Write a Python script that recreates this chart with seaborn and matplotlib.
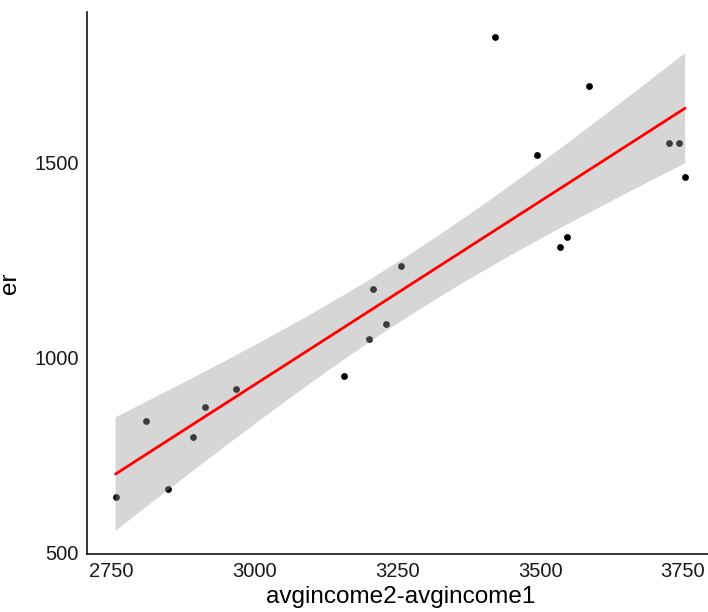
import numpy as np
import pandas as pd
import matplotlib
matplotlib.use("Agg")
import matplotlib.pyplot as plt
import seaborn as sns

# ---- data ----
income_diff = [2757, 2811, 2849, 2893, 2913, 2968, 3156, 3200, 3207, 3230,
               3256, 3421, 3494, 3535, 3548, 3586, 3726, 3743, 3754]
er = [642, 838, 664, 797, 873, 921, 954, 1048, 1177, 1087,
      1235, 1822, 1520, 1285, 1310, 1697, 1550, 1550, 1464]
x_ticks = [2750, 3000, 3250, 3500, 3750]
y_ticks = [500, 1000, 1500]
x_label = "avgincome2-avgincome1"
y_label = "er"

df = pd.DataFrame({"x": income_diff, "y": er})

sns.set_theme(style="white")
plt.rcParams["font.family"] = ["Liberation Sans", "DejaVu Sans"]

fig = plt.figure(figsize=(7.08, 6.12), dpi=100)
ax = fig.add_axes([87 / 708, 1 - 554 / 612, (713.7 - 87) / 708, (554 - 12) / 612])

# points first (the ribbon is drawn over them, as in the reference)
sns.scatterplot(data=df, x="x", y="y", color="black", s=24, linewidth=0,
                ax=ax, zorder=1)

# analytic 95% confidence band of the linear fit (t-based, like geom_smooth)
xv = df["x"].to_numpy(float)
yv = df["y"].to_numpy(float)
n = len(xv)
slope, intercept = np.polyfit(xv, yv, 1)
resid = yv - (intercept + slope * xv)
s = np.sqrt(np.sum(resid ** 2) / (n - 2))
sxx = np.sum((xv - xv.mean()) ** 2)
grid = np.linspace(xv.min(), xv.max(), 100)
fit = intercept + slope * grid
se = s * np.sqrt(1.0 / n + (grid - xv.mean()) ** 2 / sxx)
t_crit = 2.1098  # t(0.975, df=17)
ax.fill_between(grid, fit - t_crit * se, fit + t_crit * se,
                facecolor="#999999", alpha=0.4, edgecolor="none", zorder=2)

# fitted line
sns.regplot(data=df, x="x", y="y", scatter=False, ci=None,
            line_kws={"color": "red", "linewidth": 2.0, "zorder": 3}, ax=ax)

ax.set_xlim(2707, 3804)
ax.set_ylim(497, 1887)
ax.set_xticks(x_ticks)
ax.set_yticks(y_ticks)
ax.tick_params(axis="both", length=0, labelsize=14.5, colors="#1a1a1a", pad=6)
ax.set_xlabel(x_label, fontsize=17.5, color="black", labelpad=3)
ax.set_ylabel(y_label, fontsize=17.5, color="black")
ax.yaxis.set_label_coords(-0.105, 0.5)

for side in ["top", "right"]:
    ax.spines[side].set_visible(False)
for side in ["left", "bottom"]:
    ax.spines[side].set_color("black")
    ax.spines[side].set_linewidth(1.1)
ax.grid(False)

fig.savefig("out.png", dpi=100)
